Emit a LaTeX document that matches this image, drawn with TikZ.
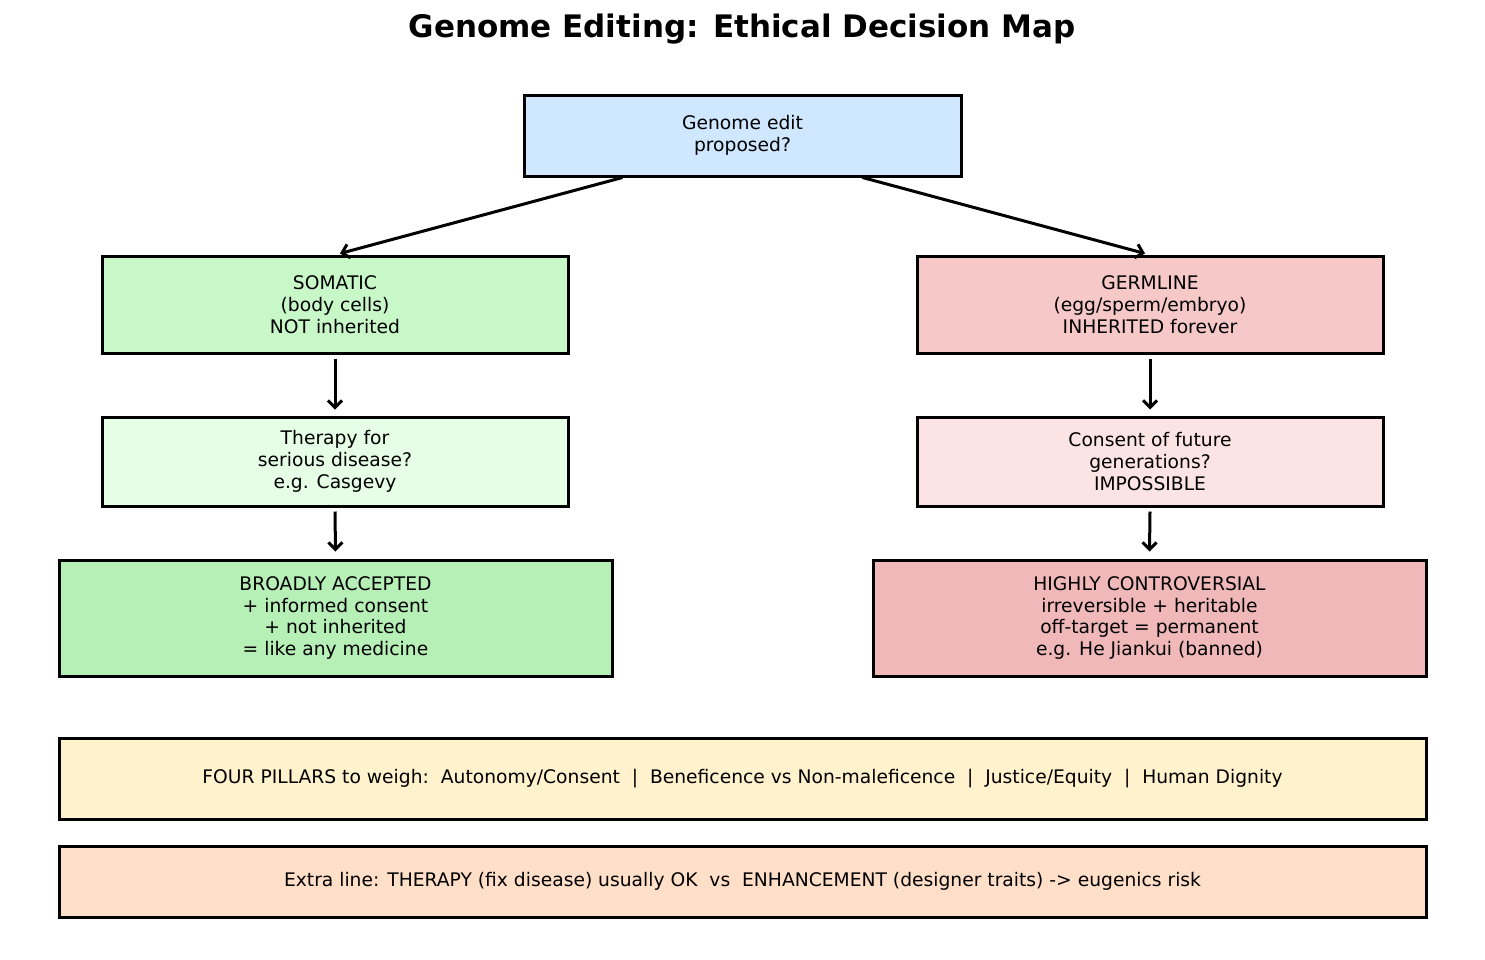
\documentclass[tikz,border=0pt]{standalone}
\usepackage{fontspec}
\setmainfont{DejaVu Sans}
\usetikzlibrary{arrows.meta}
\definecolor{cTop}{HTML}{CFE8FF}
\definecolor{cSom}{HTML}{C8F7C8}
\definecolor{cGer}{HTML}{F7C8C8}
\definecolor{cThe}{HTML}{E6FDE6}
\definecolor{cCon}{HTML}{FDE4E4}
\definecolor{cAcc}{HTML}{B6F0B6}
\definecolor{cCtr}{HTML}{F0B8B8}
\definecolor{cPil}{HTML}{FFF2CC}
\definecolor{cExt}{HTML}{FFDFC8}
\tikzset{
  box/.style={draw=black, line width=3pt, rectangle, align=center, inner sep=0pt,
    font=\fontsize{18.7}{21.7}\selectfont},
  conn/.style={line width=3pt, -{Straight Barb[length=7pt,width=14pt,line width=3pt]}},
}
\begin{document}
\begin{tikzpicture}[x=1pt,y=-1pt]
\useasboundingbox (0,0) rectangle (1485,959);
\fill[white] (0,0) rectangle (1485,959);
\node[font=\bfseries\fontsize{31}{36}\selectfont] (title) at (742,29) {Genome Editing: Ethical Decision Map};
\node[box, fill=cTop, minimum width=437pt, minimum height=81pt] (top) at (742.5,135.5) {Genome edit\\proposed?};
\node[box, fill=cSom, minimum width=466pt, minimum height=97pt] (som) at (335,304.5) {SOMATIC\\(body cells)\\NOT inherited};
\node[box, fill=cGer, minimum width=466pt, minimum height=97pt] (ger) at (1150,304.5) {GERMLINE\\(egg/sperm/embryo)\\INHERITED forever};
\node[box, fill=cThe, minimum width=466pt, minimum height=89pt] (the) at (335,461.5) {Therapy for\\serious disease?\\e.g. Casgevy};
\node[box, fill=cCon, minimum width=466pt, minimum height=89pt] (con) at (1150,461.5) {Consent of future\\generations?\\IMPOSSIBLE};
\node[box, fill=cAcc, minimum width=553pt, minimum height=116pt] (acc) at (335.5,618) {BROADLY ACCEPTED\\+ informed consent\\+ not inherited\\= like any medicine};
\node[box, fill=cCtr, minimum width=553pt, minimum height=116pt] (ctr) at (1149.5,618) {HIGHLY CONTROVERSIAL\\irreversible + heritable\\off-target = permanent\\e.g. He Jiankui (banned)};
\node[box, fill=cPil, minimum width=1367pt, minimum height=81pt] (pil) at (742.5,778.5) {FOUR PILLARS to weigh:\ \ Autonomy/Consent\ \ |\ \ Beneficence vs Non-maleficence\ \ |\ \ Justice/Equity\ \ |\ \ Human Dignity};
\node[box, fill=cExt, minimum width=1367pt, minimum height=71pt] (ext) at (742.5,881.5) {Extra line: THERAPY (fix disease) usually OK\ \ vs\ \ ENHANCEMENT (designer traits) -> eugenics risk};
\draw[conn] ([xshift=-120pt]top.south) -- ([xshift=5pt,yshift=1pt]som.north);
\draw[conn] ([xshift=120pt]top.south) -- ([xshift=-5pt,yshift=1pt]ger.north);
\draw[conn] ([yshift=-4pt]som.south) -- ([yshift=6pt]the.north);
\draw[conn] ([yshift=-4pt]ger.south) -- ([yshift=6pt]con.north);
\draw[conn] ([yshift=-4pt]the.south) -- ([yshift=7pt]acc.north);
\draw[conn] ([yshift=-4pt]con.south) -- ([yshift=7pt]ctr.north);
\end{tikzpicture}
\end{document}
